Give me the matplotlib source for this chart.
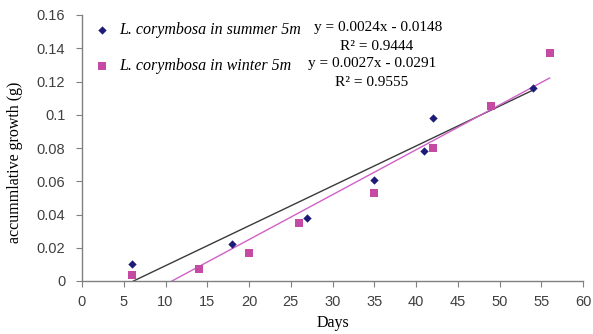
import numpy as np
import matplotlib.pyplot as plt
from matplotlib.ticker import FuncFormatter

# accumulated growth of L. corymbosa at 5 m depth
summer_days = [6, 18, 27, 35, 41, 42, 54]
summer_growth = [0.0105, 0.022, 0.038, 0.0605, 0.078, 0.098, 0.116]
winter_days = [6, 14, 20, 26, 35, 42, 49, 56]
winter_growth = [0.0035, 0.0075, 0.017, 0.035, 0.053, 0.080, 0.105, 0.137]

# linear trendline coefficients (slope, intercept, R^2)
summer_fit = (0.0024, -0.0148, 0.9444)
winter_fit = (0.0027, -0.0291, 0.9555)

summer_color = '#1c1c78'
winter_color = '#c44aa3'

fig = plt.figure(figsize=(5.93, 3.34), dpi=100)
ax = fig.add_axes([82 / 593, 1 - 281 / 334, 501 / 593, 266 / 334])

ax.scatter(summer_days, summer_growth, marker='D', s=18, color=summer_color,
           label='L. corymbosa in summer 5m', zorder=3, linewidths=0)
ax.scatter(winter_days, winter_growth, marker='s', s=30, color=winter_color,
           label='L. corymbosa in winter 5m', zorder=3, linewidths=0)

for days, (a, b, r2), col in [(summer_days, summer_fit, '#3a3a3a'),
                              (winter_days, winter_fit, '#d060c8')]:
    xs = np.array([-b / a, max(days)])
    ax.plot(xs, a * xs + b, color=col, lw=1.0, zorder=2)

ax.set_xlim(0, 60)
ax.set_ylim(0, 0.16)
ax.set_xticks(range(0, 61, 5))
ax.set_yticks(np.arange(0, 0.161, 0.02))
ax.yaxis.set_major_formatter(FuncFormatter(lambda v, p: '%g' % round(v, 2)))

for s in ['top', 'right']:
    ax.spines[s].set_visible(False)
for s in ['left', 'bottom']:
    ax.spines[s].set_color('#808080')
    ax.spines[s].set_linewidth(1.0)
ax.tick_params(direction='out', length=4, color='#808080', labelsize=10.5,
               labelcolor='#404040')
ax.tick_params(axis='x', pad=6)
ax.tick_params(axis='y', pad=8)
for lab in ax.get_xticklabels() + ax.get_yticklabels():
    lab.set_family('Liberation Sans')

ax.set_xlabel('Days', family='Liberation Serif', fontsize=11.5)
ax.set_ylabel('accummlative growth (g)', family='Liberation Serif', fontsize=11.5)
ax.xaxis.set_label_coords(0.5, -(323 - 281) / 266)
ax.yaxis.set_label_coords(-(82 - 15) / 501, (281 - 162) / 266)
ax.xaxis.label.set_va('center')
ax.yaxis.label.set_va('center')

leg = ax.legend(loc='upper left', bbox_to_anchor=(0.005, 1.01), frameon=False,
                prop={'family': 'Liberation Serif', 'style': 'italic', 'size': 11.5},
                labelspacing=1.25, handletextpad=0.6, handlelength=1.0, borderaxespad=0.2)

eq_font = dict(family='Liberation Serif', fontsize=11, ha='center', va='center',
               transform=fig.transFigure)
fig.text(378 / 593, 1 - 28 / 334, 'y = %.4fx - %.4f' % (summer_fit[0], -summer_fit[1]), **eq_font)
fig.text(377 / 593, 1 - 46 / 334, 'R² = %.4f' % summer_fit[2], **eq_font)
fig.text(372 / 593, 1 - 64 / 334, 'y = %.4fx - %.4f' % (winter_fit[0], -winter_fit[1]), **eq_font)
fig.text(372 / 593, 1 - 82 / 334, 'R² = %.4f' % winter_fit[2], **eq_font)

fig.savefig('out.png', dpi=100, facecolor='white')
